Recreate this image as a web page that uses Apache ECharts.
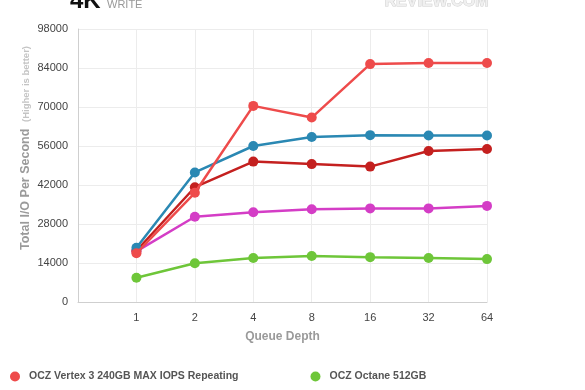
<!DOCTYPE html>
<html><head><meta charset="utf-8">
<script src="https://cdn.jsdelivr.net/npm/echarts@6/dist/echarts.min.js"></script>
<style>html,body{margin:0;padding:0;background:#fff}#c{width:585px;height:390px}</style>
</head><body><div id="c"></div>
<script>
var categories = ['', '1', '2', '4', '8', '16', '32', '64'];
var yTicks = [0, 14000, 28000, 42000, 56000, 70000, 84000, 98000];
var vertexMaxIops = [null, 17500, 39200, 70400, 66200, 85400, 85800, 85800];
var seriesBlue = [null, 19500, 46500, 56000, 59200, 59900, 59800, 59800];
var seriesDarkRed = [null, 18400, 41200, 50400, 49500, 48600, 54200, 54900];
var seriesMagenta = [null, 18200, 30600, 32200, 33300, 33600, 33600, 34500];
var octane512 = [null, 8700, 13900, 15800, 16500, 16100, 15800, 15400];

var chart = echarts.init(document.getElementById('c'));
function mk(name, data, color, z) {
  return {
    name: name, type: 'line', data: data, z: z,
    symbol: 'circle', symbolSize: 10, showSymbol: true,
    lineStyle: { width: 2.5, color: color },
    itemStyle: { color: color },
    animation: false
  };
}
chart.setOption({
  animation: false,
  grid: { left: 78, right: 98, top: 29, bottom: 88 },
  xAxis: {
    type: 'category', data: categories, boundaryGap: false,
    axisLine: { show: true, lineStyle: { color: '#cfcfcf', width: 1 } },
    axisTick: { show: false },
    axisLabel: { color: '#444', fontFamily: 'Liberation Sans', fontSize: 11, margin: 10 },
    splitLine: { show: true, lineStyle: { color: '#ececec', width: 1 } },
    name: 'Queue Depth', nameLocation: 'middle', nameGap: 29,
    nameTextStyle: { color: '#9a9a9a', fontFamily: 'Liberation Sans', fontWeight: 'bold', fontSize: 12 }
  },
  yAxis: {
    type: 'value', min: 0, max: 98000, interval: 14000,
    axisLine: { show: true, lineStyle: { color: '#cfcfcf', width: 1 } },
    axisTick: { show: false },
    axisLabel: { color: '#444', fontFamily: 'Liberation Sans', fontSize: 11, margin: 10,
      formatter: function (v) { return yTicks.indexOf(v) >= 0 ? String(v) : ''; } },
    splitLine: { show: true, lineStyle: { color: '#ececec', width: 1 } }
  },
  legend: {
    data: [
      { name: 'OCZ Vertex 3 240GB MAX IOPS Repeating', itemStyle: { color: '#ee4b4b' } },
      { name: 'OCZ Octane 512GB', itemStyle: { color: '#6ec639' } }
    ],
    left: 5, top: 366, icon: 'circle', itemWidth: 10, itemHeight: 10, itemGap: 72,
    textStyle: { color: '#555', fontFamily: 'Liberation Sans', fontWeight: 'bold', fontSize: 10.5, padding: [0, 0, 0, 4] }
  },
  graphic: [
    { type: 'text', left: 70, top: -11, style: { text: '4K', font: 'bold 24px "Liberation Sans"', fill: '#111' } },
    { type: 'text', left: 107, top: -1, style: { text: 'WRITE', font: '11px "Liberation Sans"', fill: '#999' } },
    { type: 'text', left: 384, top: -7, style: { text: 'REVIEW.COM', font: 'bold 16px "Liberation Sans"', fill: '#f0f0f0', stroke: '#cfcfcf', lineWidth: 1 } },
    { type: 'text', x: 26, y: 148, rotation: Math.PI / 2,
      style: { text: '{a|Total I/O Per Second}  {b|(Higher is better)}', align: 'center', verticalAlign: 'middle',
        rich: {
          a: { font: 'bold 12.5px "Liberation Sans"', fill: '#9a9a9a' },
          b: { font: 'bold 9.5px "Liberation Sans"', fill: '#c4c4c4' }
        } } }
  ],
  series: [
    mk('OCZ Octane 512GB', octane512, '#6ec639', 2),
    mk('Series Magenta', seriesMagenta, '#d43dc6', 3),
    mk('Series Dark Red', seriesDarkRed, '#c4201f', 4),
    mk('Series Blue', seriesBlue, '#2a88b3', 5),
    mk('OCZ Vertex 3 240GB MAX IOPS Repeating', vertexMaxIops, '#ee4b4b', 6)
  ]
});
</script></body></html>
